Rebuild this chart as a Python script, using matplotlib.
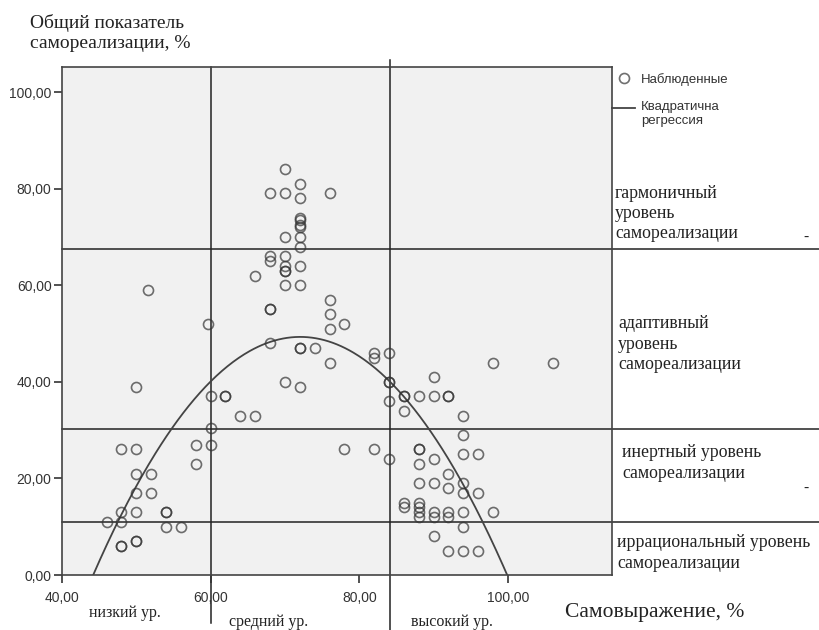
import numpy as np
import matplotlib
matplotlib.use('Agg')
import matplotlib.pyplot as plt
from matplotlib.ticker import FuncFormatter

# Наблюдаемые значения: самовыражение (x) и общий показатель самореализации (y)
obs_x = [46,
         48, 48, 48, 48, 48,
         50, 50, 50, 50, 50, 50, 50,
         51.6, 52, 52,
         54, 54, 54,
         56,
         58, 58,
         59.7, 60, 60, 60,
         62, 62,
         64,
         66, 66,
         68, 68, 68, 68, 68, 68,
         70, 70, 70, 70, 70, 70, 70, 70, 70,
         72, 72, 72, 72, 72, 72, 72, 72, 72, 72, 72, 72, 72,
         74,
         76, 76, 76, 76, 76,
         78, 78,
         82, 82, 82,
         84, 84, 84, 84, 84,
         86, 86, 86, 86, 86,
         88, 88, 88, 88, 88, 88, 88, 88, 88,
         90, 90, 90, 90, 90, 90, 90,
         92, 92, 92, 92, 92, 92, 92,
         94, 94, 94, 94, 94, 94, 94, 94,
         96, 96, 96,
         98, 98,
         106]
obs_y = [11,
         26, 13, 11, 6, 6,
         39, 26, 21, 17, 13, 7, 7,
         59, 21, 17,
         13, 13, 10,
         10,
         27, 23,
         52, 37, 30.5, 27,
         37, 37,
         33,
         62, 33,
         79, 66, 65, 55, 55, 48,
         84, 79, 70, 66, 64, 63, 63, 60, 40,
         81, 78, 74, 73.5, 72.5, 72, 70, 68, 64, 60, 47, 47, 39,
         47,
         79, 57, 54, 51, 44,
         52, 26,
         46, 45, 26,
         46, 40, 40, 36, 24,
         37, 37, 34, 15, 14,
         37, 26, 26, 23, 19, 15, 14, 13, 12,
         41, 37, 24, 19, 13, 12, 8,
         37, 37, 21, 18, 13, 12, 5,
         33, 29, 25, 19, 17, 13, 10, 5,
         25, 17, 5,
         44, 13,
         44]

# квадратичная регрессия (коэффициенты)
fit_coef = [-0.06356, 9.159, -280.65]

x_ticks = [40, 60, 80, 100]
y_ticks = [0, 20, 40, 60, 80, 100]

# границы уровней
x_bounds = [60, 84.2]
x_levels = ['низкий ур.', 'средний ур.', 'высокий ур.']
x_level_pos = [48.5, 67.8, 92.5]
y_bounds = [11.0, 30.3, 67.6]
y_levels = ['гармоничный\nуровень\nсамореализации',
            'адаптивный\nуровень\nсамореализации',
            'инертный уровень\nсамореализации',
            'иррациональный уровень\nсамореализации']
y_level_pos = [74.9, 47.8, 23.2, 4.55]
y_level_left = [1.0055, 1.011, 1.019, 1.009]

serif = ['Liberation Serif', 'DejaVu Serif']
sans = ['Liberation Sans', 'DejaVu Sans']
plt.rcParams['font.family'] = sans

fig = plt.figure(figsize=(8.2, 6.3), dpi=100)
ax = fig.add_axes([0.0756, 0.0873, 0.6707, 0.8064])
ax.set_facecolor('#f1f1f1')

# точки и линия регрессии
ax.plot(obs_x, obs_y, 'o', ms=7.2, mfc='none', mec='#333333', mew=1.2,
        alpha=0.7, label='Наблюденные', zorder=3)
r = np.sort(np.roots(fit_coef))
xf = np.linspace(r[0], r[1], 300)
ax.plot(xf, np.polyval(fit_coef, xf), color='#444444', lw=1.3,
        label='Квадратична\nрегрессия', zorder=2)

ax.set_xlim(40, 114)
ax.set_ylim(0, 105.2)
ax.set_xticks(x_ticks)
ax.set_yticks(y_ticks)
fmt = FuncFormatter(lambda v, p: f'{v:.2f}'.replace('.', ','))
ax.xaxis.set_major_formatter(fmt)
ax.yaxis.set_major_formatter(fmt)
ax.tick_params(direction='out', length=5.5, width=1.2, color='#333333',
               labelsize=10, labelcolor='#333333')
ax.tick_params(axis='x', pad=6)
ax.tick_params(axis='y', pad=2)
for s in ax.spines.values():
    s.set_color('#444444')
    s.set_linewidth(1.2)

# линии уровней
ax.axvline(x_bounds[0], ymin=-0.094, ymax=1.0, color='#222222', lw=1.1,
           clip_on=False, zorder=1)
ax.axvline(x_bounds[1], ymin=-0.108, ymax=1.014, color='#222222', lw=1.1,
           clip_on=False, zorder=1)
for yb in y_bounds:
    ax.axhline(yb, xmin=0, xmax=1.38, color='#222222', lw=1.1,
               clip_on=False, zorder=1)

# подписи уровней
tr_x = ax.get_xaxis_transform()
for lab, xp, yp in zip(x_levels, x_level_pos, [-0.075, -0.0925, -0.0925]):
    ax.text(xp, yp, lab, transform=tr_x, ha='center', va='center',
            fontsize=11.5, family=serif, color='#222222')
tr_y = ax.get_yaxis_transform()
for lab, yp, xl in zip(y_levels, y_level_pos, y_level_left):
    ax.text(xl, yp, lab, transform=tr_y, ha='left', va='center',
            fontsize=12.8, family=serif, color='#222222', linespacing=1.25)
for yp in [70.0, 17.9]:
    ax.text(1.352, yp, '-', transform=tr_y, ha='center', va='center',
            fontsize=11, family=serif, color='#222222')

ax.text(107.7, -0.073, 'Самовыражение, %', transform=tr_x, ha='left',
        va='center', fontsize=15.5, family=serif, color='#222222')
fig.text(0.036, 1 - 14 / 630, 'Общий показатель\nсамореализации, %',
         ha='left', va='top', fontsize=14, family=serif, color='#222222',
         linespacing=1.25)

leg = ax.legend(loc='upper left', bbox_to_anchor=(1.0, 0.988), frameon=False,
                borderpad=0, borderaxespad=0, handlelength=1.75,
                handletextpad=0.45, labelspacing=1.17, fontsize=9.5,
                labelcolor='#333333')
# линия в легенде на уровне первой строки подписи
ln = leg.legend_handles[1]
ln.set_ydata(np.asarray(ln.get_ydata()) + 4.7)

fig.savefig('out.png', dpi=100)
